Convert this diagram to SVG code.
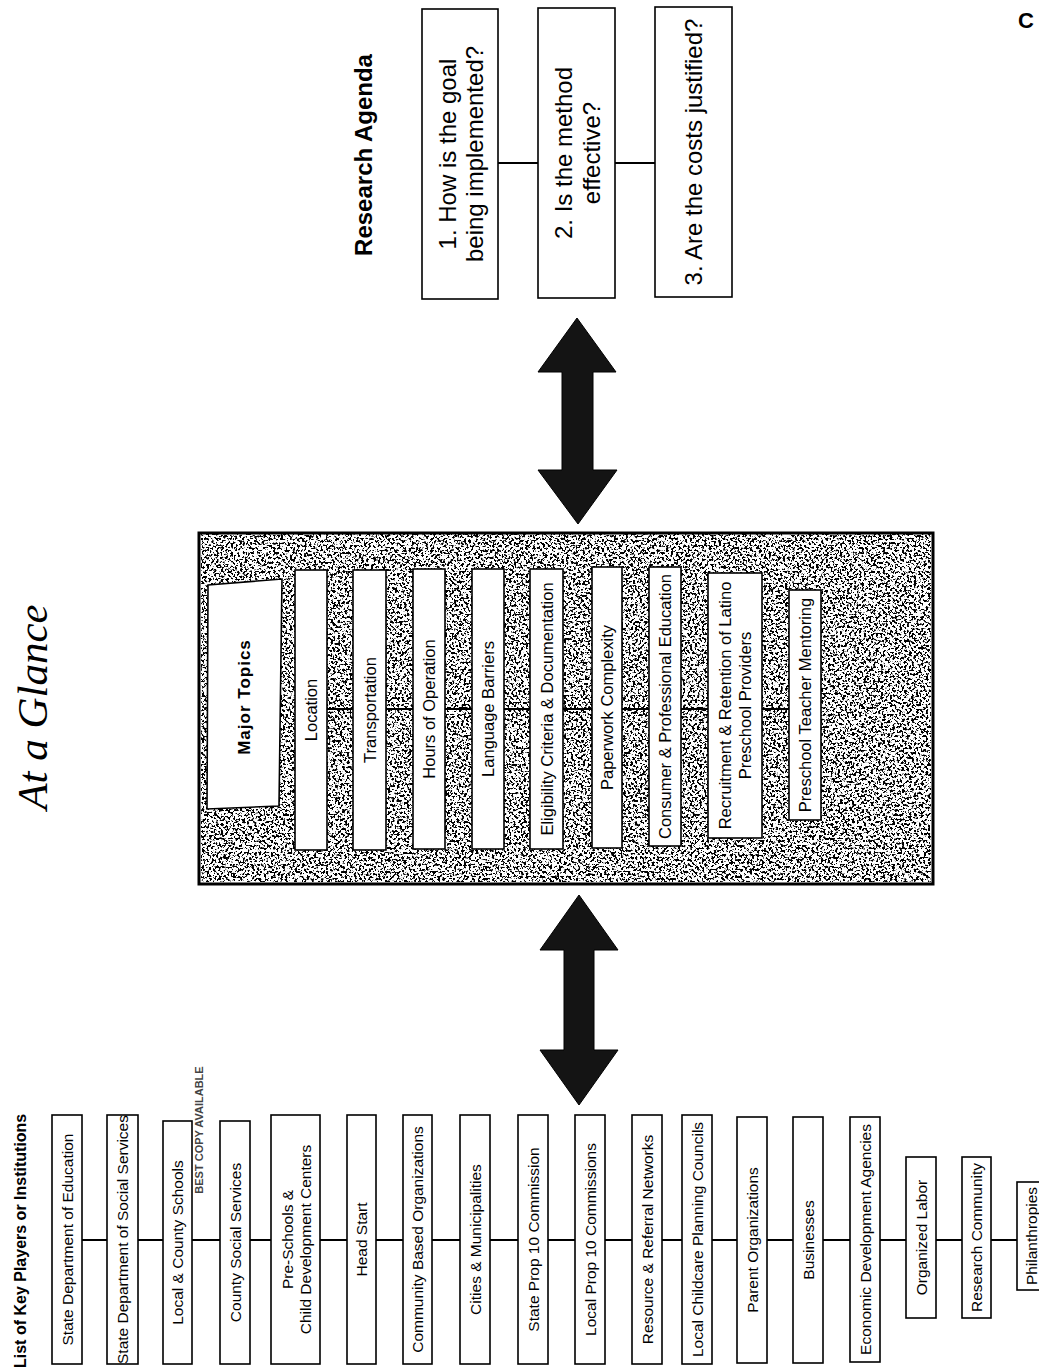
<svg xmlns="http://www.w3.org/2000/svg" width="1039" height="1370" viewBox="0 0 1039 1370">
<defs>
<style>
.box{fill:#fff;stroke:#000;stroke-width:1.6}
.t{font-family:"Liberation Sans",Arial,sans-serif;fill:#000;text-anchor:middle;dominant-baseline:central}
.kp{font-size:15.5px}
.tp{font-size:16.5px}
.ra{font-size:24px}
.b{font-weight:bold}
.conn{stroke:#000;stroke-width:2;fill:none}
.arrow{fill:#141414;stroke:#000;stroke-width:1}
</style>
<filter id="speck" x="0" y="0" width="1" height="1" filterUnits="objectBoundingBox">
<feTurbulence type="fractalNoise" baseFrequency="0.42" numOctaves="3" seed="7"/>
<feColorMatrix type="matrix" values="0 0 0 0 0  0 0 0 0 0  0 0 0 0 0  16 0 0 0 -8.3"/>
</filter>
</defs>
<rect width="1039" height="1370" fill="#fff"/>

<!-- titles -->
<text id="title" transform="translate(47,707) rotate(-90)" style="font-family:'Liberation Serif','Times New Roman',serif;font-style:italic;font-size:43px;text-anchor:middle">At a Glance</text>
<text id="kp-title" class="t b" transform="translate(20,1368) rotate(-90)" style="font-size:16px;text-anchor:start">List of Key Players or Institutions</text>
<text id="ra-title" class="t b" transform="translate(363,155) rotate(-90)" style="font-size:24px">Research Agenda</text>
<text id="stamp" class="t b" transform="translate(199,1130) rotate(-90)" style="font-size:11px;fill:#444">BEST COPY AVAILABLE</text>
<text id="pagemark" class="t b" x="1026" y="20" style="font-size:22px">C</text>

<!-- major topics panel -->
<g id="panel">
<rect x="201" y="534" width="730" height="348" fill="#fff"/>
<rect x="201" y="534" width="730" height="348" fill="#000" filter="url(#speck)"/>
<rect x="199" y="533" width="734" height="351" fill="none" stroke="#000" stroke-width="3"/>
</g>

<!-- connectors -->
<g id="connectors">
<line class="conn" x1="82" y1="1240" x2="1017" y2="1240"/>
<line class="conn" x1="327" y1="709" x2="789" y2="709"/>
<line class="conn" x1="498" y1="163" x2="655" y2="163"/>
<polygon class="arrow" points="577,318 538,372 562,372 562,470 538,470 578,524 617,470 593,470 593,372 616,372"/>
<polygon class="arrow" points="579,895 540,950 564,950 564,1050 540,1050 579,1105 618,1050 594,1050 594,950 618,950"/>
</g>

<!-- major topics -->
<g id="major-topics">
<polygon points="208,585 282,579 279,806 207,809" fill="#fff" stroke="#000" stroke-width="1.6"/>
<text class="t b" transform="translate(244,697) rotate(-90)" style="font-size:17px;letter-spacing:1px">Major Topics</text>
</g>
<g id="topic-location"><rect class="box" x="295" y="570" width="32" height="280"/><text class="t tp" transform="translate(311,710) rotate(-90)">Location</text></g>
<g id="topic-transportation"><rect class="box" x="353" y="570" width="33" height="280"/><text class="t tp" transform="translate(369.5,710) rotate(-90)">Transportation</text></g>
<g id="topic-hours"><rect class="box" x="413" y="569" width="32" height="280"/><text class="t tp" transform="translate(429,709) rotate(-90)">Hours of Operation</text></g>
<g id="topic-language"><rect class="box" x="472" y="569" width="32" height="280"/><text class="t tp" transform="translate(488,709) rotate(-90)">Language Barriers</text></g>
<g id="topic-eligibility"><rect class="box" x="530" y="569" width="33" height="280"/><text class="t tp" transform="translate(546.5,709) rotate(-90)">Eligibility Criteria &amp; Documentation</text></g>
<g id="topic-paperwork"><rect class="box" x="592" y="567" width="30" height="281"/><text class="t tp" transform="translate(607,707.5) rotate(-90)">Paperwork Complexity</text></g>
<g id="topic-consumer"><rect class="box" x="649" y="567" width="32" height="279"/><text class="t tp" transform="translate(665,706.5) rotate(-90)">Consumer &amp; Professional Education</text></g>
<g id="topic-recruitment"><rect class="box" x="708" y="573" width="54" height="265"/><text class="t tp" transform="translate(735,705.5) rotate(-90)"><tspan x="0" y="-10">Recruitment &amp; Retention of Latino</tspan><tspan x="0" y="10">Preschool Providers</tspan></text></g>
<g id="topic-mentoring"><rect class="box" x="789" y="590" width="32" height="230"/><text class="t tp" transform="translate(805,705) rotate(-90)">Preschool Teacher Mentoring</text></g>

<!-- research agenda -->
<g id="ra-1"><rect class="box" x="422" y="9" width="76" height="290"/><text class="t ra" transform="translate(460,154) rotate(-90)"><tspan x="0" y="-13.5">1. How is the goal</tspan><tspan x="0" y="13.5">being implemented?</tspan></text></g>
<g id="ra-2"><rect class="box" x="538" y="8" width="77" height="290"/><text class="t ra" transform="translate(577,153) rotate(-90)"><tspan x="0" y="-14">2. Is the method</tspan><tspan x="0" y="14">effective?</tspan></text></g>
<g id="ra-3"><rect class="box" x="655" y="7" width="77" height="290"/><text class="t ra" transform="translate(693,152) rotate(-90)">3. Are the costs justified?</text></g>

<!-- key players -->
<g id="kp-1"><rect class="box" x="52" y="1115" width="30" height="249"/><text class="t kp" transform="translate(67,1239.5) rotate(-90)">State Department of Education</text></g>
<g id="kp-2"><rect class="box" x="107" y="1115" width="31" height="249"/><text class="t kp" transform="translate(122.5,1239.5) rotate(-90)">State Department of Social Services</text></g>
<g id="kp-3"><rect class="box" x="163" y="1121" width="29" height="243"/><text class="t kp" transform="translate(177.5,1242.5) rotate(-90)">Local &amp; County Schools</text></g>
<g id="kp-4"><rect class="box" x="220" y="1121" width="30" height="243"/><text class="t kp" transform="translate(235,1242.5) rotate(-90)">County Social Services</text></g>
<g id="kp-5"><rect class="box" x="271" y="1115" width="49" height="249"/><text class="t kp" transform="translate(295.5,1239.5) rotate(-90)"><tspan x="0" y="-9">Pre-Schools &amp;</tspan><tspan x="0" y="9">Child Development Centers</tspan></text></g>
<g id="kp-6"><rect class="box" x="347" y="1115" width="29" height="249"/><text class="t kp" transform="translate(361.5,1239.5) rotate(-90)">Head Start</text></g>
<g id="kp-7"><rect class="box" x="403" y="1115" width="29" height="249"/><text class="t kp" transform="translate(417.5,1239.5) rotate(-90)">Community Based Organizations</text></g>
<g id="kp-8"><rect class="box" x="460" y="1115" width="30" height="249"/><text class="t kp" transform="translate(475,1239.5) rotate(-90)">Cities &amp; Municipalities</text></g>
<g id="kp-9"><rect class="box" x="518" y="1115" width="30" height="249"/><text class="t kp" transform="translate(533,1239.5) rotate(-90)">State Prop 10 Commission</text></g>
<g id="kp-10"><rect class="box" x="575" y="1115" width="30" height="249"/><text class="t kp" transform="translate(590,1239.5) rotate(-90)">Local Prop 10 Commissions</text></g>
<g id="kp-11"><rect class="box" x="632" y="1115" width="30" height="249"/><text class="t kp" transform="translate(647,1239.5) rotate(-90)">Resource &amp; Referral Networks</text></g>
<g id="kp-12"><rect class="box" x="682" y="1115" width="30" height="249"/><text class="t kp" transform="translate(697,1239.5) rotate(-90)">Local Childcare Planning Councils</text></g>
<g id="kp-13"><rect class="box" x="737" y="1117" width="30" height="246"/><text class="t kp" transform="translate(752,1240) rotate(-90)">Parent Organizations</text></g>
<g id="kp-14"><rect class="box" x="793" y="1117" width="30" height="246"/><text class="t kp" transform="translate(808,1240) rotate(-90)">Businesses</text></g>
<g id="kp-15"><rect class="box" x="850" y="1117" width="30" height="245"/><text class="t kp" transform="translate(865,1239.5) rotate(-90)">Economic Development Agencies</text></g>
<g id="kp-16"><rect class="box" x="906" y="1157" width="30" height="161"/><text class="t kp" transform="translate(921,1237.5) rotate(-90)">Organized Labor</text></g>
<g id="kp-17"><rect class="box" x="962" y="1157" width="29" height="161"/><text class="t kp" transform="translate(976.5,1237.5) rotate(-90)">Research Community</text></g>
<g id="kp-18"><rect class="box" x="1017" y="1182" width="29" height="108"/><text class="t kp" transform="translate(1031.5,1236) rotate(-90)">Philanthropies</text></g>
</svg>
